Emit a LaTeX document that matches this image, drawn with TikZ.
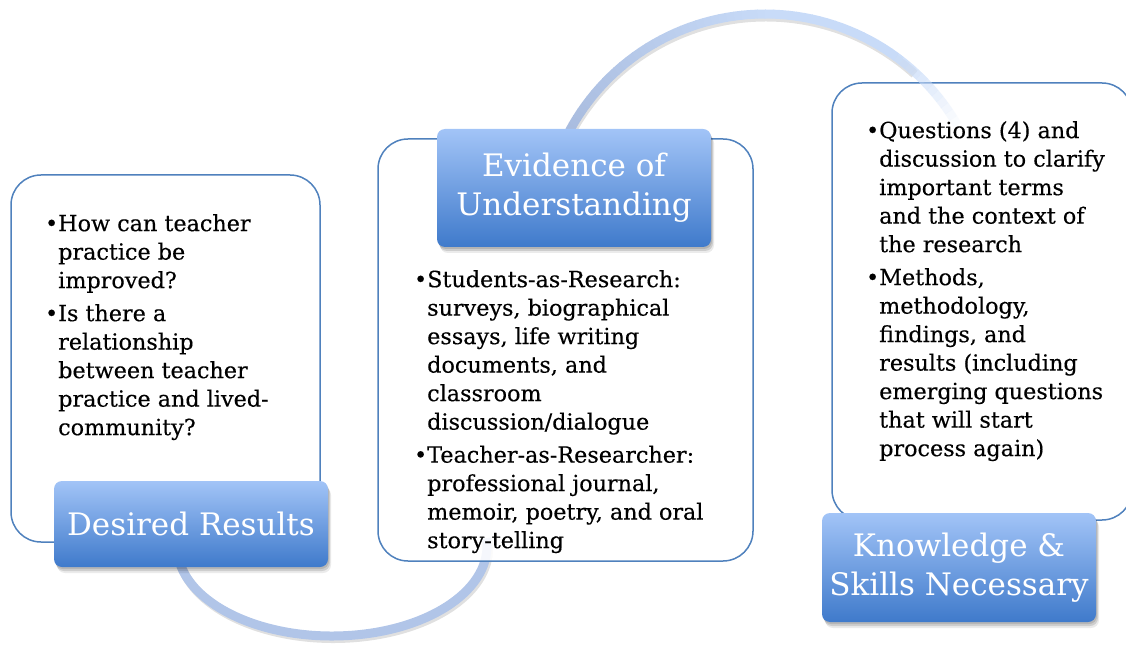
\documentclass[tikz,border=0pt]{standalone}
\usepackage{fontspec}
\setmainfont{DejaVu Serif}
\newfontfamily\bodyfont[FakeBold=0.3]{DejaVu Serif}
\usepackage{tikz}
\usetikzlibrary{positioning}
\usetikzlibrary{shadows}
\definecolor{boxline}{HTML}{4F81BD}
\definecolor{titletop}{HTML}{A2C4F7}
\definecolor{titlebot}{HTML}{3F7ACB}
\definecolor{arcdark}{HTML}{A4B7DB}
\definecolor{arclight}{HTML}{C8DBF8}
\definecolor{arclow}{HTML}{B1C5E8}
\tikzstyle{panel}=[draw=boxline,line width=1.5pt,rounded corners=30pt,fill=white,inner sep=0pt]
\tikzstyle{header}=[rounded corners=8pt,top color=titletop,bottom color=titlebot,text=white,align=center,inner sep=0pt,
  font=\fontsize{31}{39}\selectfont,
  drop shadow={shadow xshift=1pt,shadow yshift=-2pt,opacity=0.12,fill=black},
  drop shadow={shadow xshift=2pt,shadow yshift=-4pt,opacity=0.12,fill=black},
  drop shadow={shadow xshift=3pt,shadow yshift=-6pt,opacity=0.08,fill=black}]
\tikzstyle{bodytext}=[anchor=north west,align=left,inner sep=0pt,font=\bodyfont\fontsize{22.3}{28.5}\selectfont]
\tikzstyle{cyclearc}=[line width=9pt]
\tikzstyle{arcshade}=[line width=9pt,black,opacity=0.12]
\newcommand{\bul}{\strut\makebox[0pt][r]{\textbullet}}

\begin{document}
\begin{tikzpicture}[x=1pt,y=1pt]
\useasboundingbox (0,0) rectangle (1126,646);
% lower loop runs under the boxes
\coordinate (lowc) at (332,100);
\draw[arcshade] ([shift={(1.5,-2.5)}]lowc) ++(185:155pt and 90pt) arc[start angle=185,end angle=365,x radius=155pt,y radius=90pt];
\draw[cyclearc,arclow] (lowc) ++(185:155pt and 90pt) arc[start angle=185,end angle=365,x radius=155pt,y radius=90pt];

\node[panel,minimum width=309pt,minimum height=367pt] (respanel) at (165.5,287.5) {};
\node[header,minimum width=274pt,minimum height=86pt] (results) at (191,122) {Desired Results};
\node[panel,fill opacity=0.88,minimum width=375pt,minimum height=422pt] (evipanel) at (565.5,296) {};
\node[panel,minimum width=300pt,minimum height=437pt] (skipanel) at (982,344.5) {};

% upper loop, fading out over the last panel
\coordinate (topc) at (765,410);
\draw[arcshade] ([shift={(1,-3)}]topc) ++(160:222pt) arc[start angle=160,end angle=48,radius=222pt];
\foreach \a in {160,158,...,56}{
  \pgfmathsetmacro\mix{\a>90 ? (\a-90)*1.4 : 0}
  \draw[cyclearc,color=arcdark!\mix!arclight] (topc) ++(\a:222pt) arc[start angle=\a,end angle=\a-2.2,radius=222pt];
}
\foreach \a in {54,52,...,32}{
  \pgfmathsetmacro\op{(\a-30)/26}
  \draw[cyclearc,arclight,draw opacity=\op] (topc) ++(\a:222pt) arc[start angle=\a,end angle=\a-2,radius=222pt];
}

\node[header,minimum width=274pt,minimum height=118pt] (evidence) at (574,458) {Evidence of\\Understanding};
\node[header,minimum width=274pt,minimum height=109pt] (skills) at (959,78.5) {Knowledge \&\\Skills Necessary};

\node[bodytext] (resq) at (58,435) {\bul How can teacher\\ practice be\\ improved?\\[4.5pt]
  \bul Is there a\\ relationship\\ between teacher\\ practice and lived-\\ community?};
\node[bodytext] (evitext) at (427,379) {\bul Students-as-Research:\\ surveys, biographical\\ essays, life writing\\
  documents, and\\ classroom\\ discussion/dialogue\\[4.5pt]
  \bul Teacher-as-Researcher:\\ professional journal,\\ memoir, poetry, and oral\\ story-telling};
\node[bodytext] (skitext) at (879,528) {\bul Questions (4) and\\ discussion to clarify\\ important terms\\
  and the context of\\ the research\\[4.5pt]
  \bul Methods,\\ methodology,\\ findings, and\\ results (including\\ emerging questions\\ that will start\\ process again)};

\end{tikzpicture}
\end{document}
